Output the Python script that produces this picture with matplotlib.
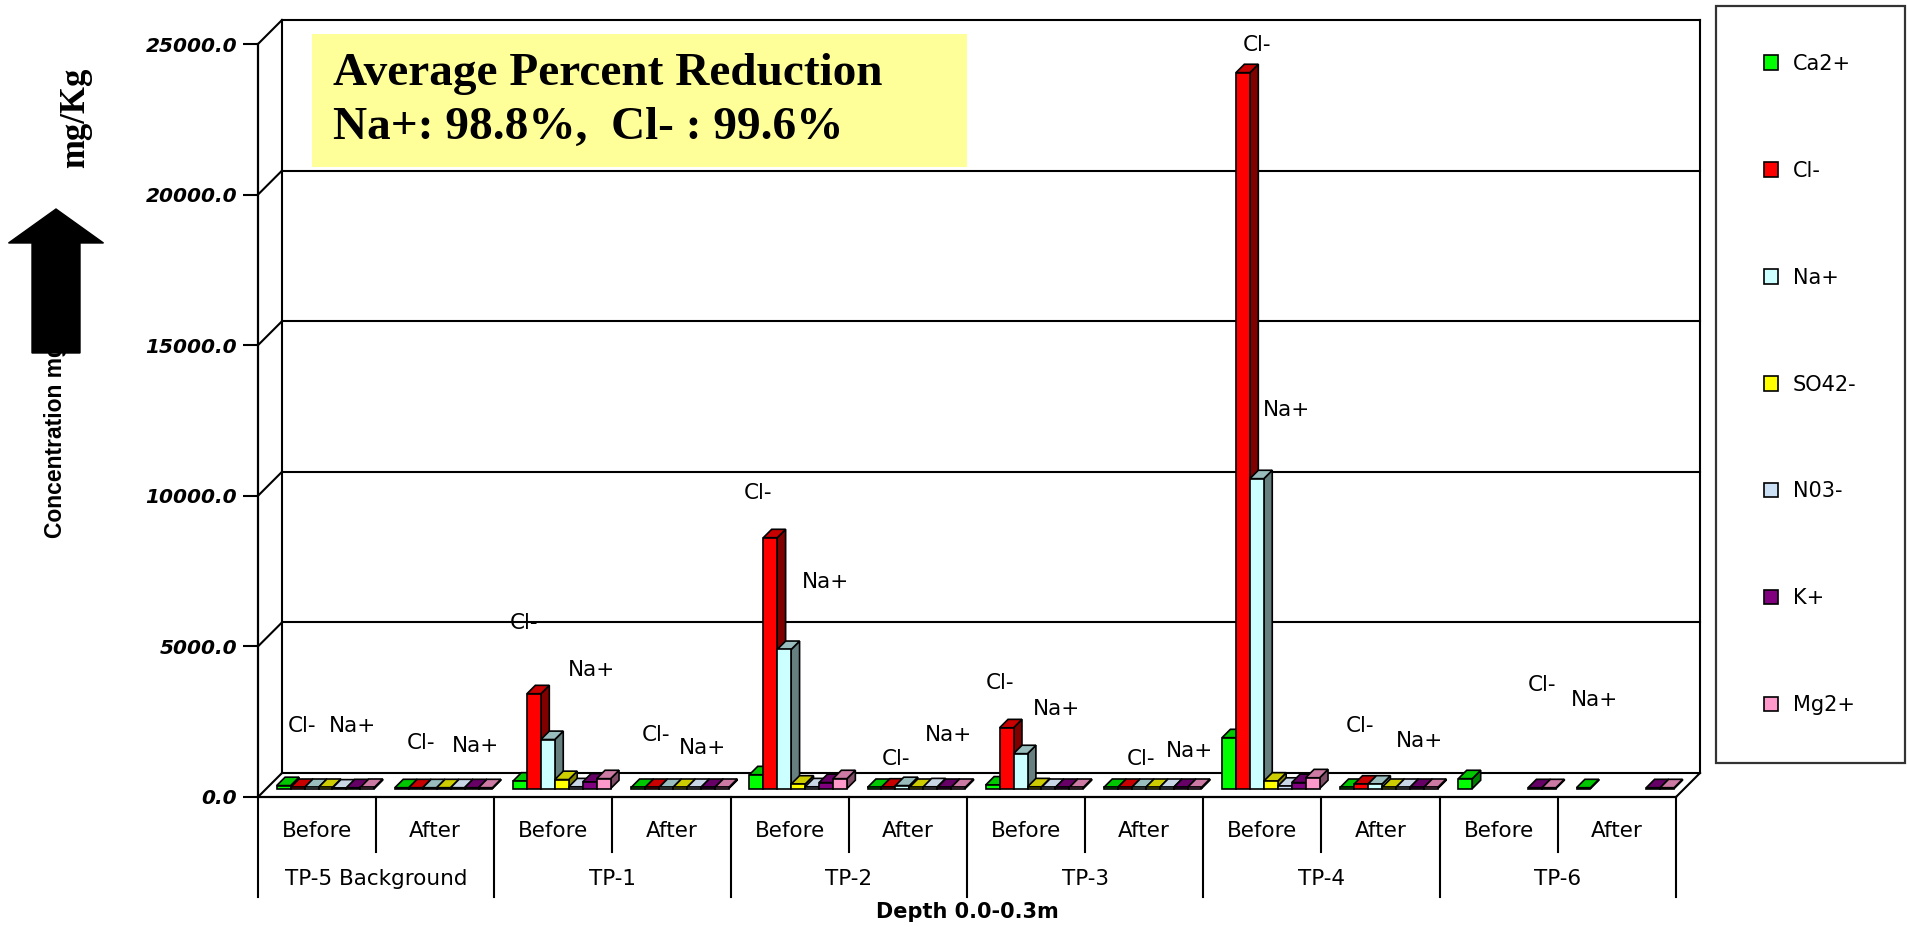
import numpy as np
import matplotlib.pyplot as plt
from matplotlib.patches import Polygon, Rectangle, Patch, FancyArrow

sites = ['TP-5 Background', 'TP-1', 'TP-2', 'TP-3', 'TP-4', 'TP-6']
stages = ['Before', 'After']
ions = ['Ca2+', 'Cl-', 'Na+', 'SO42-', 'N03-', 'K+', 'Mg2+']

# mg/Kg, 12 values per ion: each site Before then After
ca = [100, 30, 250, 40, 460, 40, 120, 40, 1690, 40, 330, 30]
cl = [40, 30, 3150, 40, 8330, 50, 2020, 40, 23770, 150, np.nan, np.nan]
na = [40, 30, 1630, 40, 4620, 100, 1160, 40, 10290, 150, np.nan, np.nan]
so4 = [40, 30, 300, 40, 150, 40, 60, 40, 250, 40, np.nan, np.nan]
no3 = [20, 30, 60, 40, 60, 60, 40, 40, 80, 40, np.nan, np.nan]
kk = [30, 30, 220, 40, 200, 40, 40, 40, 200, 40, 30, 30]
mg = [40, 30, 330, 40, 330, 40, 40, 40, 360, 40, 30, 30]

# where Excel dropped the "Cl-" / "Na+" data labels (offset in category, value)
cl_lab_dx = [0.37, 0.38, 0.25, 0.37, 0.23, 0.40, 0.28, 0.47, 0.45, 0.33, 0.87]
cl_lab_y = [2360, 1790, 5780, 2060, 10090, 1260, 3790, 1260, 24970, 2360, 3720]
na_lab_dx = [0.80, 0.84, 0.82, 0.76, 0.80, 0.84, 0.76, 0.88, 0.70, 0.83, 1.31]
na_lab_y = [2360, 1690, 4220, 1630, 7140, 2060, 2920, 1530, 12850, 1860, 3220]

yticks = [0, 5000, 10000, 15000, 20000, 25000]

series = [ca, cl, na, so4, no3, kk, mg]
front = ['#00FF00', '#FF0000', '#CCFFFF', '#FFFF00', '#CCE0F5', '#800080', '#FF99CC']
topc = ['#00C800', '#C80000', '#99BDBD', '#CCCC00', '#C8D6E6', '#660066', '#CC7AA3']
sidec = ['#008000', '#800000', '#668080', '#808000', '#7F8C99', '#400040', '#804D66']

W, H = 1908, 927
fig = plt.figure(figsize=(W / 100, H / 100), dpi=100)
ax = fig.add_axes([258 / W, (H - 797) / H, (1676 - 258) / W, (797 - 44) / H])
ncat = len(sites) * len(stages)
ax.set_xlim(0, ncat)
ax.set_ylim(0, 25000)

px = 25000 / 753.0          # value units per pixel
DX = 24 / 118.17            # depth offset, category units
DY = 24 * px                # depth offset, value units

for s in ['top', 'right']:
    ax.spines[s].set_visible(False)
ax.spines['left'].set_linewidth(1.6)
ax.spines['bottom'].set_linewidth(1.6)
ax.set_yticks(yticks)
ax.set_yticklabels(['%.1f' % v for v in yticks], fontfamily='DejaVu Sans',
                   fontweight='bold', fontstyle='oblique', fontsize=14.5)
ax.tick_params(axis='y', direction='out', length=10.8, width=1.5, pad=4.3)
ax.set_xticks([])

lk = dict(color='black', lw=1.5, clip_on=False, zorder=1)
for v in yticks:
    ax.plot([0, DX], [v, v + DY], **lk)
    ax.plot([DX, ncat + DX], [v + DY, v + DY], **lk)
ax.plot([DX, DX], [DY, 25000 + DY], **lk)
ax.plot([ncat + DX] * 2, [DY, 25000 + DY], **lk)
ax.plot([ncat, ncat + DX], [0, DY], **lk)

# dividers under the category axis
for k in range(ncat + 1):
    depth = 100 if k % 2 == 0 else 55
    ax.plot([k, k], [0, -depth * px], **lk)

# pseudo 3D clustered bars
bw = 0.118
start = (1 - bw * len(series)) / 2
f0, f1 = 0.35, 0.70
z = 3
for i in range(ncat):
    for j, vals in enumerate(series):
        v = vals[i]
        if np.isnan(v):
            continue
        x0 = i + start + j * bw
        xa, ya = x0 + f0 * DX, f0 * DY
        xb, yb = x0 + f1 * DX, f1 * DY
        ax.add_patch(Polygon([(xa + bw, ya), (xb + bw, yb), (xb + bw, yb + v), (xa + bw, ya + v)],
                             closed=True, fc=sidec[j], ec='black', lw=1.2, clip_on=False, zorder=z))
        ax.add_patch(Polygon([(xa, ya + v), (xa + bw, ya + v), (xb + bw, yb + v), (xb, yb + v)],
                             closed=True, fc=topc[j], ec='black', lw=1.2, clip_on=False, zorder=z))
        ax.add_patch(Rectangle((xa, ya), bw, v, fc=front[j], ec='black', lw=1.2,
                               clip_on=False, zorder=z))
        z += 1

for i in range(len(cl_lab_y)):
    ax.text(i + cl_lab_dx[i], cl_lab_y[i], 'Cl-', ha='center', va='center',
            fontsize=15.5, fontfamily='DejaVu Sans', zorder=200)
    ax.text(i + na_lab_dx[i], na_lab_y[i], 'Na+', ha='center', va='center',
            fontsize=15.5, fontfamily='DejaVu Sans', zorder=200)

tf = ('data', 'axes fraction')
for i in range(ncat):
    ax.annotate(stages[i % 2], xy=(i + 0.5, 0), xycoords=tf, xytext=(0, -34 * 0.72),
                textcoords='offset points', ha='center', va='center',
                fontsize=15.5, fontfamily='DejaVu Sans')
for g, name in enumerate(sites):
    ax.annotate(name, xy=(2 * g + 1, 0), xycoords=tf, xytext=(0, -82 * 0.72),
                textcoords='offset points', ha='center', va='center',
                fontsize=15.5, fontfamily='DejaVu Sans')
ax.annotate('Depth 0.0-0.3m', xy=(ncat / 2, 0), xycoords=tf, xytext=(0, -115 * 0.72),
            textcoords='offset points', ha='center', va='center',
            fontsize=15, fontweight='bold', fontfamily='DejaVu Sans')

# title box
fig.patches.append(Rectangle((312 / W, 1 - 167 / H), (967 - 312) / W, (167 - 34) / H,
                             transform=fig.transFigure, fc='#FFFF99', ec='none', zorder=0))
fig.text(333 / W, 1 - 74 / H, 'Average Percent Reduction', fontfamily='Liberation Serif',
         fontweight='bold', fontsize=34, va='center', ha='left')
fig.text(333 / W, 1 - 128 / H, 'Na+: 98.8%,  Cl- : 99.6%', fontfamily='Liberation Serif',
         fontweight='bold', fontsize=34, va='center', ha='left')

# y label + arrow
fig.text(76 / W, 1 - 118 / H, 'mg/Kg', rotation=90, ha='center', va='center',
         fontfamily='Liberation Serif', fontweight='bold', fontsize=25)
fig.text(56 / W, 1 - 538 / H, 'Concentration mg/Kg', rotation=90, ha='center', va='bottom',
         fontfamily='Liberation Sans', fontweight='bold', fontsize=16.5)
arr = FancyArrow(56 / W, 1 - 353 / H, 0, (353 - 209) / H, width=(80 - 32) / W,
                 head_width=(103 - 8) / W, head_length=(243 - 209) / H,
                 length_includes_head=True, transform=fig.transFigure,
                 fc='black', ec='black', zorder=10)
fig.patches.append(arr)

handles = [Patch(fc=front[j], ec='black', lw=1.2) for j in range(len(ions))]
leg = fig.legend(handles, ions, loc='upper left', bbox_to_anchor=(1716 / W, 1 - 6 / H),
                 borderaxespad=0, fancybox=False, frameon=True, edgecolor='black',
                 prop={'family': 'DejaVu Sans', 'size': 15}, handlelength=0.7,
                 handleheight=0.7, handletextpad=0.7, labelspacing=4.17, borderpad=2.3)
leg.get_frame().set_linewidth(1.6)

fig.savefig('out.png', dpi=100)
